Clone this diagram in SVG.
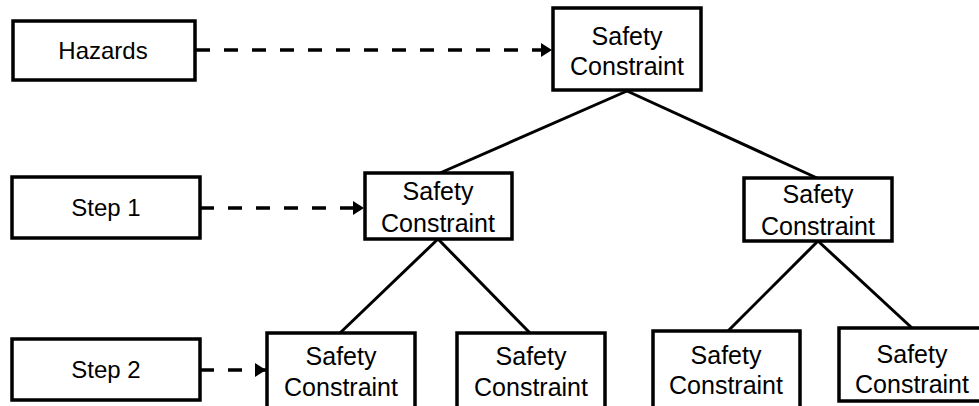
<svg xmlns="http://www.w3.org/2000/svg" width="979" height="406" viewBox="0 0 979 406">
<style>
.box{fill:#fff;stroke:#000;stroke-width:3.5}
.t{font-family:"Liberation Sans",Arial,sans-serif;font-size:25px;fill:#000;text-anchor:middle}
.s{font-size:24px}
.dash{fill:none;stroke:#000;stroke-width:3.5;stroke-dasharray:14 14}
.line{fill:none;stroke:#000;stroke-width:3}
</style>
<defs>
<marker id="ah" markerUnits="userSpaceOnUse" markerWidth="12" markerHeight="16" refX="11" refY="8" orient="auto">
<path d="M0,1 L11,8 L0,15 Z" fill="#000"/>
</marker>
</defs>
<g id="connectors">
<line class="dash" x1="196" y1="50" x2="552" y2="50" marker-end="url(#ah)"/>
<line class="dash" x1="200" y1="208" x2="364" y2="208" marker-end="url(#ah)"/>
<line class="dash" x1="200" y1="370" x2="266" y2="370" marker-end="url(#ah)"/>
<line class="line" x1="627" y1="91" x2="440" y2="173"/>
<line class="line" x1="627" y1="91" x2="817" y2="178"/>
<line class="line" x1="438" y1="239" x2="340" y2="333"/>
<line class="line" x1="438" y1="239" x2="530" y2="333"/>
<line class="line" x1="818" y1="241" x2="728" y2="331"/>
<line class="line" x1="818" y1="241" x2="912" y2="328"/>
</g>
<g id="hazards">
<rect class="box" x="13" y="21" width="182" height="59"/>
<text class="t s" x="103" y="59">Hazards</text>
</g>
<g id="step1">
<rect class="box" x="12" y="177" width="188" height="61"/>
<text class="t s" x="106" y="216">Step 1</text>
</g>
<g id="step2">
<rect class="box" x="12" y="339" width="188" height="61"/>
<text class="t s" x="106" y="378">Step 2</text>
</g>
<g id="sc-top">
<rect class="box" x="553" y="8" width="148" height="82"/>
<text class="t" x="627" y="45">Safety</text>
<text class="t" x="627" y="75">Constraint</text>
</g>
<g id="sc-mid-left">
<rect class="box" x="365" y="173" width="147" height="66"/>
<text class="t" x="438" y="200">Safety</text>
<text class="t" x="438" y="232">Constraint</text>
</g>
<g id="sc-mid-right">
<rect class="box" x="744" y="178" width="148" height="63"/>
<text class="t" x="818" y="203">Safety</text>
<text class="t" x="818" y="235">Constraint</text>
</g>
<g id="sc-b1">
<rect class="box" x="267" y="333" width="148" height="80"/>
<text class="t" x="341" y="365">Safety</text>
<text class="t" x="341" y="396">Constraint</text>
</g>
<g id="sc-b2">
<rect class="box" x="457" y="333" width="148" height="80"/>
<text class="t" x="531" y="365">Safety</text>
<text class="t" x="531" y="396">Constraint</text>
</g>
<g id="sc-b3">
<rect class="box" x="653" y="331" width="147" height="80"/>
<text class="t" x="726" y="364">Safety</text>
<text class="t" x="726" y="394">Constraint</text>
</g>
<g id="sc-b4">
<rect class="box" x="839" y="328" width="148" height="73"/>
<text class="t" x="912" y="363">Safety</text>
<text class="t" x="912" y="393">Constraint</text>
</g>
</svg>
